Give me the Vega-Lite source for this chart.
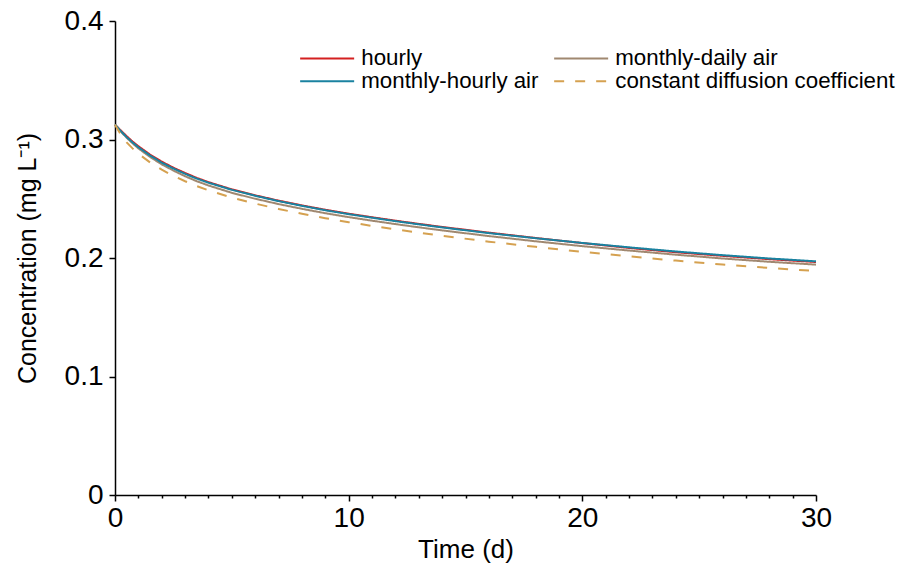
{
  "$schema": "https://vega.github.io/schema/vega-lite/v6.json",
  "width": 701,
  "height": 474,
  "autosize": "none",
  "padding": {"left": 115, "top": 21, "right": 86, "bottom": 69},
  "config": {
    "view": {"stroke": null},
    "font": "Liberation Sans",
    "axis": {
      "domainColor": "black", "domainWidth": 1.5, "tickColor": "black", "tickWidth": 1.5,
      "labelColor": "black", "titleColor": "black", "labelFont": "Liberation Sans", "titleFont": "Liberation Sans",
      "labelFontSize": 28, "titleFontSize": 26, "titleFontWeight": "normal", "grid": false
    }
  },
  "datasets": {
    "curves": [
      {"t":0,"C":0.3125,"series":"hourly"},{"t":0.25,"C":0.3076,"series":"hourly"},{"t":0.5,"C":0.3028,"series":"hourly"},{"t":0.75,"C":0.2983,"series":"hourly"},{"t":1,"C":0.2943,"series":"hourly"},{"t":1.5,"C":0.2873,"series":"hourly"},{"t":2,"C":0.2813,"series":"hourly"},{"t":2.5,"C":0.2762,"series":"hourly"},{"t":3,"C":0.2717,"series":"hourly"},{"t":3.5,"C":0.2676,"series":"hourly"},{"t":4,"C":0.2640,"series":"hourly"},{"t":5,"C":0.2579,"series":"hourly"},{"t":6,"C":0.2529,"series":"hourly"},{"t":7,"C":0.2484,"series":"hourly"},{"t":8,"C":0.2444,"series":"hourly"},{"t":9,"C":0.2407,"series":"hourly"},{"t":10,"C":0.2374,"series":"hourly"},{"t":11,"C":0.2344,"series":"hourly"},{"t":12,"C":0.2315,"series":"hourly"},{"t":13,"C":0.2288,"series":"hourly"},{"t":14,"C":0.2262,"series":"hourly"},{"t":16,"C":0.2214,"series":"hourly"},{"t":18,"C":0.2169,"series":"hourly"},{"t":20,"C":0.2126,"series":"hourly"},{"t":22,"C":0.2085,"series":"hourly"},{"t":24,"C":0.2049,"series":"hourly"},{"t":26,"C":0.2018,"series":"hourly"},{"t":28,"C":0.1990,"series":"hourly"},{"t":30,"C":0.1966,"series":"hourly"},
      {"t":0,"C":0.3125,"series":"monthly-daily air"},{"t":0.25,"C":0.3067,"series":"monthly-daily air"},{"t":0.5,"C":0.3015,"series":"monthly-daily air"},{"t":0.75,"C":0.2968,"series":"monthly-daily air"},{"t":1,"C":0.2925,"series":"monthly-daily air"},{"t":1.5,"C":0.2853,"series":"monthly-daily air"},{"t":2,"C":0.2790,"series":"monthly-daily air"},{"t":2.5,"C":0.2738,"series":"monthly-daily air"},{"t":3,"C":0.2690,"series":"monthly-daily air"},{"t":3.5,"C":0.2648,"series":"monthly-daily air"},{"t":4,"C":0.2612,"series":"monthly-daily air"},{"t":5,"C":0.2550,"series":"monthly-daily air"},{"t":6,"C":0.2500,"series":"monthly-daily air"},{"t":7,"C":0.2455,"series":"monthly-daily air"},{"t":8,"C":0.2415,"series":"monthly-daily air"},{"t":9,"C":0.2378,"series":"monthly-daily air"},{"t":10,"C":0.2345,"series":"monthly-daily air"},{"t":11,"C":0.2315,"series":"monthly-daily air"},{"t":12,"C":0.2286,"series":"monthly-daily air"},{"t":13,"C":0.2259,"series":"monthly-daily air"},{"t":14,"C":0.2233,"series":"monthly-daily air"},{"t":16,"C":0.2185,"series":"monthly-daily air"},{"t":18,"C":0.2141,"series":"monthly-daily air"},{"t":20,"C":0.2100,"series":"monthly-daily air"},{"t":22,"C":0.2063,"series":"monthly-daily air"},{"t":24,"C":0.2028,"series":"monthly-daily air"},{"t":26,"C":0.1996,"series":"monthly-daily air"},{"t":28,"C":0.1968,"series":"monthly-daily air"},{"t":30,"C":0.1944,"series":"monthly-daily air"},
      {"t":0,"C":0.3125,"series":"monthly-hourly air"},{"t":0.25,"C":0.3070,"series":"monthly-hourly air"},{"t":0.5,"C":0.3020,"series":"monthly-hourly air"},{"t":0.75,"C":0.2975,"series":"monthly-hourly air"},{"t":1,"C":0.2935,"series":"monthly-hourly air"},{"t":1.5,"C":0.2865,"series":"monthly-hourly air"},{"t":2,"C":0.2805,"series":"monthly-hourly air"},{"t":2.5,"C":0.2755,"series":"monthly-hourly air"},{"t":3,"C":0.2710,"series":"monthly-hourly air"},{"t":3.5,"C":0.2670,"series":"monthly-hourly air"},{"t":4,"C":0.2635,"series":"monthly-hourly air"},{"t":5,"C":0.2575,"series":"monthly-hourly air"},{"t":6,"C":0.2525,"series":"monthly-hourly air"},{"t":7,"C":0.2480,"series":"monthly-hourly air"},{"t":8,"C":0.2440,"series":"monthly-hourly air"},{"t":9,"C":0.2403,"series":"monthly-hourly air"},{"t":10,"C":0.2370,"series":"monthly-hourly air"},{"t":11,"C":0.2340,"series":"monthly-hourly air"},{"t":12,"C":0.2311,"series":"monthly-hourly air"},{"t":13,"C":0.2284,"series":"monthly-hourly air"},{"t":14,"C":0.2258,"series":"monthly-hourly air"},{"t":16,"C":0.2210,"series":"monthly-hourly air"},{"t":18,"C":0.2167,"series":"monthly-hourly air"},{"t":20,"C":0.2127,"series":"monthly-hourly air"},{"t":22,"C":0.2090,"series":"monthly-hourly air"},{"t":24,"C":0.2055,"series":"monthly-hourly air"},{"t":26,"C":0.2024,"series":"monthly-hourly air"},{"t":28,"C":0.1996,"series":"monthly-hourly air"},{"t":30,"C":0.1972,"series":"monthly-hourly air"},
      {"t":0,"C":0.3125,"series":"constant diffusion coefficient"},{"t":0.25,"C":0.3040,"series":"constant diffusion coefficient"},{"t":0.5,"C":0.2975,"series":"constant diffusion coefficient"},{"t":0.75,"C":0.2925,"series":"constant diffusion coefficient"},{"t":1,"C":0.2880,"series":"constant diffusion coefficient"},{"t":1.5,"C":0.2807,"series":"constant diffusion coefficient"},{"t":2,"C":0.2745,"series":"constant diffusion coefficient"},{"t":2.5,"C":0.2693,"series":"constant diffusion coefficient"},{"t":3,"C":0.2648,"series":"constant diffusion coefficient"},{"t":3.5,"C":0.2607,"series":"constant diffusion coefficient"},{"t":4,"C":0.2571,"series":"constant diffusion coefficient"},{"t":5,"C":0.2510,"series":"constant diffusion coefficient"},{"t":6,"C":0.2459,"series":"constant diffusion coefficient"},{"t":7,"C":0.2414,"series":"constant diffusion coefficient"},{"t":8,"C":0.2373,"series":"constant diffusion coefficient"},{"t":9,"C":0.2336,"series":"constant diffusion coefficient"},{"t":10,"C":0.2302,"series":"constant diffusion coefficient"},{"t":11,"C":0.2271,"series":"constant diffusion coefficient"},{"t":12,"C":0.2242,"series":"constant diffusion coefficient"},{"t":13,"C":0.2214,"series":"constant diffusion coefficient"},{"t":14,"C":0.2187,"series":"constant diffusion coefficient"},{"t":16,"C":0.2138,"series":"constant diffusion coefficient"},{"t":18,"C":0.2094,"series":"constant diffusion coefficient"},{"t":20,"C":0.2052,"series":"constant diffusion coefficient"},{"t":22,"C":0.2014,"series":"constant diffusion coefficient"},{"t":24,"C":0.1978,"series":"constant diffusion coefficient"},{"t":26,"C":0.1945,"series":"constant diffusion coefficient"},{"t":28,"C":0.1916,"series":"constant diffusion coefficient"},{"t":30,"C":0.1890,"series":"constant diffusion coefficient"}
    ]
  },
  "data": {"name": "curves"},
  "encoding": {
    "x": {
      "field": "t", "type": "quantitative",
      "scale": {"domain": [0, 30], "nice": false, "zero": false},
      "axis": {
        "title": "Time (d)",
        "values": [0,1,2,3,4,5,6,7,8,9,10,11,12,13,14,15,16,17,18,19,20,21,22,23,24,25,26,27,28,29,30],
        "labelExpr": "datum.value % 10 === 0 ? datum.label : ''",
        "tickSize": {"condition": {"test": "datum.value % 10 === 0", "value": 6}, "value": 3},
        "labelPadding": 3, "titlePadding": 4, "labelFlush": false
      }
    },
    "y": {
      "field": "C", "type": "quantitative",
      "scale": {"domain": [0, 0.4], "nice": false},
      "axis": {
        "title": "Concentration (mg L⁻¹)",
        "titleFontSize": 25,
        "values": [0, 0.1, 0.2, 0.3, 0.4],
        "format": "~g",
        "tickSize": 6, "labelPadding": 6, "titlePadding": 24
      }
    },
    "color": {
      "field": "series", "type": "nominal",
      "scale": {
        "domain": ["hourly", "monthly-hourly air", "monthly-daily air", "constant diffusion coefficient"],
        "range": ["#d42020", "#1a82a0", "#a08870", "#d5a150"]
      },
      "legend": {
        "title": null, "orient": "none", "legendX": 201, "legendY": 26, "columns": 2,
        "symbolType": "M-2.7,0H2.7", "symbolSize": 400, "symbolStrokeWidth": 2,
        "labelFontSize": 22.3, "labelColor": "black", "labelFont": "Liberation Sans", "labelOffset": 23, "labelLimit": 0,
        "columnPadding": 11, "rowPadding": 0, "padding": 0
      }
    },
    "strokeDash": {
      "field": "series", "type": "nominal",
      "scale": {
        "domain": ["hourly", "monthly-hourly air", "monthly-daily air", "constant diffusion coefficient"],
        "range": [[1, 0], [1, 0], [1, 0], [10, 11]]
      },
      "legend": {
        "title": null, "orient": "none", "legendX": 201, "legendY": 26, "columns": 2,
        "symbolType": "M-2.7,0H2.7", "symbolSize": 400, "symbolStrokeWidth": 2,
        "labelFontSize": 22.3, "labelColor": "black", "labelFont": "Liberation Sans", "labelOffset": 23, "labelLimit": 0,
        "columnPadding": 11, "rowPadding": 0, "padding": 0
      }
    }
  },
  "layer": [
    {"transform": [{"filter": "datum.series === 'hourly'"}], "mark": {"type": "line", "strokeWidth": 2}},
    {"transform": [{"filter": "datum.series === 'monthly-daily air'"}], "mark": {"type": "line", "strokeWidth": 2}},
    {"transform": [{"filter": "datum.series === 'monthly-hourly air'"}], "mark": {"type": "line", "strokeWidth": 2}},
    {"transform": [{"filter": "datum.series === 'constant diffusion coefficient'"}], "mark": {"type": "line", "strokeWidth": 2}}
  ]
}
